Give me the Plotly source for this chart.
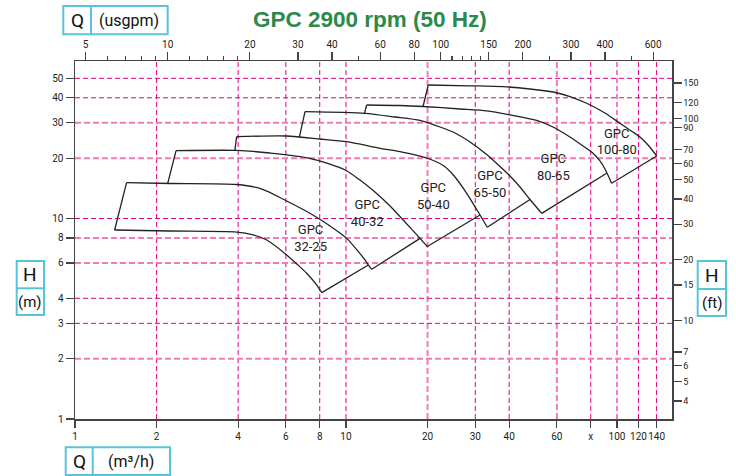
import plotly.graph_objects as go

# ---------------- data ----------------
MODELS = ["32-25", "40-32", "50-40", "65-50", "80-65", "100-80"]

# top (max impeller) curves, Q in m3/h, H in m
top_q_3225 = [1.55, 2.24, 3.95, 4.90, 6.04, 7.06, 8.14, 9.11, 10.06, 11.07, 11.75, 12.09, 12.44]
top_h_3225 = [15.09, 14.95, 14.78, 14.03, 12.23, 10.96, 9.77, 8.81, 7.96, 6.88, 6.21, 5.86, 5.58]
top_q_4032 = [2.36, 3.95, 5.24, 7.36, 9.92, 11.26, 12.79, 14.54, 16.51, 18.76, 19.95]
top_h_4032 = [21.78, 21.85, 21.21, 19.96, 17.46, 15.56, 13.56, 11.54, 9.61, 7.96, 7.25]
top_q_5040 = [3.95, 6.04, 8.02, 10.06, 13.35, 15.82, 17.98, 21.00, 22.99, 24.89, 27.89, 31.23, 33.21]
top_h_5040 = [25.59, 25.79, 24.92, 24.16, 22.39, 21.54, 20.74, 19.47, 18.28, 16.48, 13.36, 10.41, 9.04]
top_q_6550 = [7.06, 11.75, 15.16, 18.76, 22.23, 25.25, 28.68, 33.04, 37.01, 40.29, 43.86, 47.76, 52.75]
top_h_6550 = [34.09, 33.47, 32.08, 30.82, 28.60, 26.69, 24.07, 20.86, 18.17, 16.29, 14.36, 12.44, 10.61]
top_q_8065 = [11.92, 15.82, 19.24, 26.34, 33.04, 40.29, 50.54, 59.05, 67.08, 74.91, 81.75, 86.55, 90.30, 95.59]
top_h_8065 = [36.82, 36.61, 36.19, 35.17, 34.38, 32.83, 30.82, 28.28, 25.49, 22.99, 21.10, 19.36, 17.66, 14.98]
top_q_10080 = [20.12, 28.68, 38.06, 47.76, 58.21, 67.08, 77.31, 90.30, 102.6, 113.6, 121.6, 131.2, 140.1]
top_h_10080 = [46.33, 45.91, 45.44, 44.25, 42.74, 40.59, 37.55, 33.59, 29.84, 27.16, 25.49, 22.99, 20.50]

# bottom (min impeller) curve of the smallest pump
bot_q_3225 = [1.40, 2.24, 3.95, 4.50, 5.10, 6.04, 6.65, 7.16, 7.69, 8.14]
bot_h_3225 = [8.76, 8.66, 8.56, 8.32, 7.81, 6.58, 5.86, 5.33, 4.77, 4.27]

# lower end of each left edge
left_q = [1.40, 2.20, 3.89, 6.73, 11.70, 19.24]
left_h = [8.76, 15.00, 21.85, 25.45, 33.47, 36.19]

# upper end of each right edge (on the top curve)
right_q = [12.09, 18.76, 31.23, 47.76, 91.62, 140.1]
right_h = [5.86, 7.96, 10.41, 12.44, 16.81, 20.50]

# label positions
label_q = [7.40, 11.98, 21.00, 33.99, 58.21, 99.75]
label_h = [7.86, 10.53, 12.80, 14.64, 17.86, 23.86]

# axes ticks
q_m3h_ticks = [1, 2, 4, 6, 8, 10, 20, 30, 40, 60, 80, 100, 120, 140]
q_m3h_text = ["1", "2", "4", "6", "8", "10", "20", "30", "40", "60", "x", "100", "120", "140"]
h_m_ticks = [1, 2, 3, 4, 6, 8, 10, 20, 30, 40, 50]
q_gpm_ticks = [5, 10, 20, 30, 40, 60, 80, 100, 150, 200, 300, 400, 600]
q_gpm_minor = [6, 7, 8, 9, 12, 14, 16, 18, 50, 110, 120, 130, 140, 250, 500]
h_ft_ticks = [4, 5, 6, 7, 10, 15, 20, 30, 40, 50, 60, 70, 90, 100, 120, 150]

grid_q_dark = [2, 4, 6, 8, 10, 30, 40, 80, 100, 120, 140]
grid_q_light = [20, 60]
grid_h_dark = [3, 4, 10, 40, 50]
grid_h_light = [2, 6, 8, 20, 30]

# ---------------- styling ----------------
W, H = 736, 476
L, R, T, B = 75, 64, 61, 57
PW, PH = W - L - R, H - T - B

def px_x(px):
    return (px - L) / PW

def px_y(py):
    return (H - B - py) / PH

INK = "#222222"
AXC = "#444444"
DARK = "#e4007f"
LIGHT = "#f27ab6"
BOXC = "#5ac3dc"
TICKFONT = dict(family="Roboto, sans-serif", size=10, color=INK)
BOXFONT = dict(family="Roboto, sans-serif", size=17, color="#111")

tops_q = [top_q_3225, top_q_4032, top_q_5040, top_q_6550, top_q_8065, top_q_10080]
tops_h = [top_h_3225, top_h_4032, top_h_5040, top_h_6550, top_h_8065, top_h_10080]

fig = go.Figure()
line_style = dict(color=INK, width=1.3)
curve_style = dict(color=INK, width=1.3, shape="spline", smoothing=0.7)

fig.add_trace(go.Scatter(x=bot_q_3225, y=bot_h_3225, mode="lines", line=curve_style,
                         hoverinfo="skip", showlegend=False))
for i, name in enumerate(MODELS):
    # top curve
    fig.add_trace(go.Scatter(x=tops_q[i], y=tops_h[i], mode="lines", line=curve_style,
                             hoverinfo="skip", showlegend=False))
    # left edge
    fig.add_trace(go.Scatter(x=[left_q[i], tops_q[i][0]], y=[left_h[i], tops_h[i][0]],
                             mode="lines", line=line_style, hoverinfo="skip", showlegend=False))
    # right edge
    if i == 0:
        sq, sh = bot_q_3225[-1], bot_h_3225[-1]
    else:
        sq, sh = tops_q[i - 1][-1], tops_h[i - 1][-1]
    fig.add_trace(go.Scatter(x=[sq, right_q[i]], y=[sh, right_h[i]], mode="lines",
                             line=line_style, hoverinfo="skip", showlegend=False))

fig.add_trace(go.Scatter(x=label_q, y=label_h, mode="text",
                         text=["GPC<br>" + m for m in MODELS],
                         textfont=dict(family="Roboto, sans-serif", size=13, color=INK),
                         hoverinfo="skip", showlegend=False))

# dummy trace so the secondary axes exist
fig.add_trace(go.Scatter(x=[10], y=[10], xaxis="x2", yaxis="y2", mode="markers",
                         marker=dict(opacity=0), hoverinfo="skip", showlegend=False))

shapes = []
for v in grid_q_dark:
    shapes.append(dict(type="line", xref="x", yref="paper", x0=v, x1=v, y0=0, y1=1,
                       line=dict(color=DARK, width=1, dash="5px,3px"), layer="below"))
for v in grid_q_light:
    shapes.append(dict(type="line", xref="x", yref="paper", x0=v, x1=v, y0=0, y1=1,
                       line=dict(color=LIGHT, width=2, dash="6px,3px"), layer="below"))
for v in grid_h_dark:
    shapes.append(dict(type="line", xref="paper", yref="y", x0=0, x1=1, y0=v, y1=v,
                       line=dict(color=DARK, width=1, dash="5px,3px"), layer="below"))
for v in grid_h_light:
    shapes.append(dict(type="line", xref="paper", yref="y", x0=0, x1=1, y0=v, y1=v,
                       line=dict(color=LIGHT, width=2, dash="6px,3px"), layer="below"))

annotations = []

def add_box(x0, y0, x1, y1, divider, vertical_split, texts, sizes):
    shapes.append(dict(type="rect", xref="paper", yref="paper",
                       x0=px_x(x0), x1=px_x(x1), y0=px_y(y0), y1=px_y(y1),
                       line=dict(color=BOXC, width=2), fillcolor="white", layer="above"))
    if vertical_split:
        shapes.append(dict(type="line", xref="paper", yref="paper",
                           x0=px_x(divider), x1=px_x(divider), y0=px_y(y0), y1=px_y(y1),
                           line=dict(color=BOXC, width=2)))
        cells = [((x0 + divider) / 2, (y0 + y1) / 2), ((divider + x1) / 2, (y0 + y1) / 2)]
    else:
        shapes.append(dict(type="line", xref="paper", yref="paper",
                           x0=px_x(x0), x1=px_x(x1), y0=px_y(divider), y1=px_y(divider),
                           line=dict(color=BOXC, width=2)))
        cells = [((x0 + x1) / 2, (y0 + divider) / 2), ((x0 + x1) / 2, (divider + y1) / 2)]
    for (cx, cy), t, s in zip(cells, texts, sizes):
        annotations.append(dict(xref="paper", yref="paper", x=px_x(cx), y=px_y(cy),
                                text=t, showarrow=False, xanchor="center", yanchor="middle",
                                font=dict(BOXFONT, size=s)))

add_box(63.3, 6, 167.7, 34.3, 91, True, ["Q", "(usgpm)"], [19, 16])
add_box(65.7, 447.3, 170, 475, 92.7, True, ["Q", "(m³/h)"], [19, 16])
add_box(16.7, 261, 44, 315, 288.3, False, ["H", "(m)"], [19, 15])
add_box(697.7, 261, 726, 316, 289, False, ["H", "(ft)"], [19, 15])

annotations.append(dict(xref="paper", yref="paper", x=px_x(370), y=px_y(19.5),
                        text="<b>GPC 2900 rpm (50 Hz)</b>", showarrow=False,
                        xanchor="center", yanchor="middle",
                        font=dict(family="Liberation Sans, Arial, sans-serif", size=22.5,
                                  color="#2b8a4b")))

axis_common = dict(type="log", showgrid=False, zeroline=False, showline=True,
                   linecolor=AXC, linewidth=1.5, ticks="outside", tickcolor=AXC,
                   tickwidth=1.2, tickfont=TICKFONT, tickmode="array",
                   automargin=False, tickangle=0)

fig.update_layout(
    width=W, height=H,
    margin=dict(l=L, r=R, t=T, b=B, pad=0, autoexpand=False),
    paper_bgcolor="white", plot_bgcolor="white",
    showlegend=False,
    xaxis=dict(axis_common, range=[0, 2.203], tickvals=q_m3h_ticks, ticktext=q_m3h_text,
               ticklen=7),
    yaxis=dict(axis_common, range=[0, 1.7855], tickvals=h_m_ticks,
               ticktext=[str(v) for v in h_m_ticks], ticklen=8),
    xaxis2=dict(axis_common, range=[0.6604, 2.8473], overlaying="x", side="top", anchor="y",
                tickvals=q_gpm_ticks, ticktext=[str(v) for v in q_gpm_ticks], ticklen=8,
                minor=dict(tickmode="array", tickvals=q_gpm_minor, ticks="outside",
                           ticklen=4, tickcolor=AXC, tickwidth=1.2, showgrid=False)),
    yaxis2=dict(axis_common, range=[0.513, 2.285], overlaying="y", side="right", anchor="x",
                tickvals=h_ft_ticks, ticktext=[str(v) for v in h_ft_ticks], ticklen=8,
                tickfont=dict(TICKFONT, size=9)),
    shapes=shapes,
    annotations=annotations,
)

fig.write_html("out.html", config={"displayModeBar": False, "staticPlot": True},
               post_script="document.body.style.margin='0px';document.body.style.overflow='hidden';")
